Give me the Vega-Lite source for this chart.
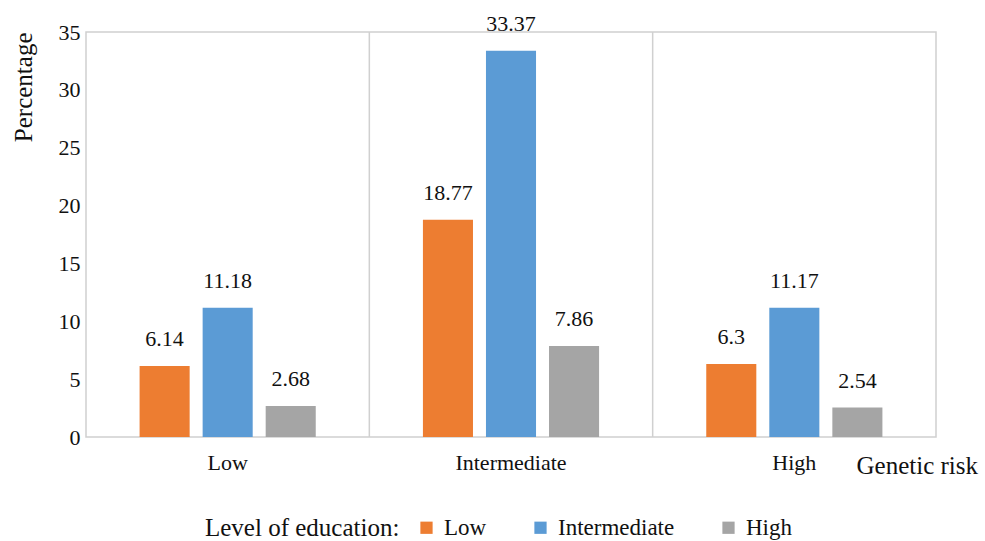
{
  "$schema": "https://vega.github.io/schema/vega-lite/v6.json",
  "width": 850,
  "height": 405,
  "autosize": "none",
  "padding": {"left": 86, "top": 32, "right": 49, "bottom": 104},
  "background": "white",
  "config": {
    "font": "Liberation Serif",
    "view": {"stroke": "#d0d0d0", "strokeWidth": 1.5}
  },
  "data": {
    "values": [
      {"risk": "Low", "edu": "Low", "pct": 6.14},
      {"risk": "Low", "edu": "Intermediate", "pct": 11.18},
      {"risk": "Low", "edu": "High", "pct": 2.68},
      {"risk": "Intermediate", "edu": "Low", "pct": 18.77},
      {"risk": "Intermediate", "edu": "Intermediate", "pct": 33.37},
      {"risk": "Intermediate", "edu": "High", "pct": 7.86},
      {"risk": "High", "edu": "Low", "pct": 6.3},
      {"risk": "High", "edu": "Intermediate", "pct": 11.17},
      {"risk": "High", "edu": "High", "pct": 2.54}
    ]
  },
  "encoding": {
    "x": {
      "field": "risk", "type": "nominal",
      "sort": ["Low", "Intermediate", "High"],
      "scale": {"paddingInner": 0, "paddingOuter": 0},
      "axis": {
        "title": "Genetic risk", "titleFont": "Liberation Serif", "titleFontSize": 25, "titleFontWeight": "normal",
        "titleColor": "#111", "titleX": 770, "titleY": 36, "titleAlign": "left", "titleBaseline": "alphabetic",
        "labelFont": "Liberation Serif", "labelAngle": 0, "labelFontSize": 22, "labelColor": "#111", "labelPadding": 15,
        "ticks": false, "domain": false, "grid": false
      }
    },
    "y": {
      "field": "pct", "type": "quantitative",
      "scale": {"domain": [0, 35], "nice": false},
      "axis": {
        "title": "Percentage", "titleFont": "Liberation Serif", "titleFontSize": 25, "titleFontWeight": "normal", "titleColor": "#111",
        "titleAnchor": "end", "titlePadding": 22,
        "values": [0, 5, 10, 15, 20, 25, 30, 35],
        "labelFont": "Liberation Serif", "labelFontSize": 22, "labelColor": "#111", "labelPadding": 6,
        "ticks": false, "domain": false, "grid": false
      }
    }
  },
  "layer": [
    {
      "mark": {"type": "bar"},
      "encoding": {
        "xOffset": {
          "field": "edu", "type": "nominal", "sort": ["Low", "Intermediate", "High"],
          "scale": {"paddingInner": 0.206, "paddingOuter": 0.85}
        },
        "color": {
          "field": "edu", "type": "nominal", "sort": ["Low", "Intermediate", "High"],
          "scale": {"domain": ["Low", "Intermediate", "High"], "range": ["#ED7D31", "#5B9BD5", "#A5A5A5"]},
          "legend": {
            "title": "Level of education:", "titleFont": "Liberation Serif", "titleOrient": "left", "titleFontSize": 25, "titleFontWeight": "normal",
            "titleColor": "#111", "titlePadding": 15, "titleBaseline": "middle", "titleLimit": 400,
            "orient": "none", "legendX": 119, "legendY": 484, "direction": "horizontal",
            "symbolType": "square", "symbolSize": 150, "symbolStrokeWidth": 0, "symbolOpacity": 1,
            "labelFont": "Liberation Serif", "labelFontSize": 23, "labelColor": "#111", "labelOffset": 6, "columnPadding": 42,
            "labelExpr": "datum.label == 'Low' ? 'Low     ' : datum.label"
          }
        }
      }
    },
    {
      "mark": {"type": "text", "font": "Liberation Serif", "baseline": "alphabetic", "dy": -20, "fontSize": 22, "color": "#111"},
      "encoding": {
        "xOffset": {"field": "edu", "type": "nominal", "sort": ["Low", "Intermediate", "High"]},
        "text": {"field": "pct", "type": "quantitative"}
      }
    },
    {
      "data": {"values": [{"risk": "Intermediate"}, {"risk": "High"}]},
      "mark": {"type": "rule", "color": "#d0d0d0", "strokeWidth": 1.5},
      "encoding": {
        "x": {"field": "risk", "type": "nominal", "bandPosition": 0, "sort": ["Low", "Intermediate", "High"]},
        "y": {"value": 0},
        "y2": {"value": 405}
      }
    }
  ]
}
